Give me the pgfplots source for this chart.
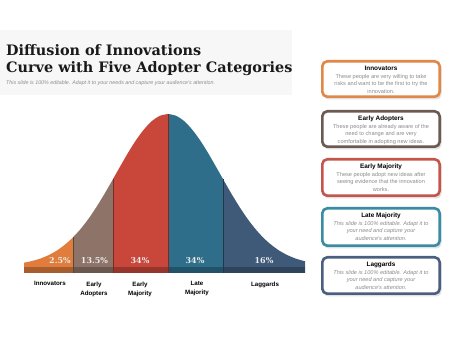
\documentclass[border=0pt]{standalone}
\usepackage{pgfplots}
\pgfplotsset{compat=1.18}
\usepackage{fontspec}
\setmainfont{DejaVu Serif}
\setsansfont{Liberation Sans}
\newfontfamily\arial{Liberation Sans}
\definecolor{cInn}{HTML}{E07C3C}
\definecolor{cEA}{HTML}{8E7468}
\definecolor{cEM}{HTML}{C8463A}
\definecolor{cLM}{HTML}{2E6E8A}
\definecolor{cLag}{HTML}{3F5A78}
\definecolor{bInn}{HTML}{E08848}
\definecolor{bEA}{HTML}{6B5A52}
\definecolor{bEM}{HTML}{C4554A}
\definecolor{bLM}{HTML}{3A8CA2}
\definecolor{bLag}{HTML}{4A5E80}
\newcommand{\infobox}[3]{%
  \fill[black!12, rounded corners=5pt] (axis cs:323.5,#1-2.5) rectangle (axis cs:441.5,#2-1.5);
  \draw[draw=#3, line width=2.6pt, fill=white, rounded corners=5pt] (axis cs:322.3,#1-1.3) rectangle (axis cs:439.7,#2+1.3);
}
\begin{document}
\begin{tikzpicture}
\begin{axis}[scale only axis, width=474pt, height=355pt,
  xmin=0, xmax=474, ymin=-82, ymax=273, hide axis, clip=false]
% background
\fill[white] (axis cs:0,-82) rectangle (axis cs:474,273);
\fill[black!3] (axis cs:0,243) rectangle (axis cs:292,178);
% title
\node[anchor=base west, inner sep=0pt, font=\bfseries\fontsize{14.4}{17}\selectfont, text=black!90] at (axis cs:6,217) {Diffusion of Innovations};
\node[anchor=base west, inner sep=0pt, font=\bfseries\fontsize{14.4}{17}\selectfont, text=black!90] at (axis cs:6,200) {Curve with Five Adopter Categories};
\node[anchor=base west, inner sep=0pt, font=\arial\itshape\fontsize{5.3}{6}\selectfont, text=black!45] at (axis cs:6,188) {This slide is 100\% editable. Adapt it to your needs and capture your audience's attention.};
% curve segments
\addplot[fill=cInn, draw=none, smooth] coordinates {(24,10.3)(32,12.0)(40,14.3)(48,17.6)(56,21.9)(64,27.6)(72,34.6)(73,35.7)} \closedcycle;
\addplot[fill=cEA, draw=none, smooth] coordinates {(73,35.7)(80,43.3)(88,53.5)(96,65.3)(104,78.3)(112,92.1)(113,93.9)} \closedcycle;
\addplot[fill=cEM, draw=none, smooth] coordinates {(113,93.9)(120,106.3)(128,120.1)(136,132.8)(144,143.6)(152,152.0)(160,157.2)(168,159)} \closedcycle;
\addplot[fill=cLM, draw=none, smooth] coordinates {(168,159)(176,157.2)(184,152.0)(192,143.6)(200,132.8)(208,120.1)(216,106.3)(223,93.9)} \closedcycle;
\addplot[fill=cLag, draw=none, smooth] coordinates {(223,93.9)(224,92.1)(232,78.3)(240,65.3)(248,53.5)(256,43.3)(264,34.6)(272,27.6)(280,21.9)(288,17.6)(296,14.3)(305,11.7)} \closedcycle;
% bottom strip
\addplot[fill=cInn!75!black, draw=none] coordinates {(24,6)(73,6)} \closedcycle;
\addplot[fill=cEA!75!black, draw=none] coordinates {(73,6)(113,6)} \closedcycle;
\addplot[fill=cEM!75!black, draw=none] coordinates {(113,6)(168,6)} \closedcycle;
\addplot[fill=cLM!75!black, draw=none] coordinates {(168,6)(223,6)} \closedcycle;
\addplot[fill=cLag!75!black, draw=none] coordinates {(223,6)(305,6)} \closedcycle;
% boundary lines
\addplot[draw=cEA!60!black, line width=0.8pt] coordinates {(73,0)(73,35.7)};
\addplot[draw=cEM!60!black, line width=0.8pt] coordinates {(113,0)(113,93.9)};
\addplot[draw=cEM!60!black, line width=0.8pt] coordinates {(168,0)(168,159)};
\addplot[draw=cLag!60!black, line width=0.8pt] coordinates {(223,0)(223,93.9)};
% percentages
\node[font=\bfseries\fontsize{8}{9}\selectfont, text=white!92!black] at (axis cs:60,12.5) {2.5\%};
\node[font=\bfseries\fontsize{8}{9}\selectfont, text=white!92!black] at (axis cs:94.5,12.5) {13.5\%};
\node[font=\bfseries\fontsize{8}{9}\selectfont, text=white!92!black] at (axis cs:140,12.5) {34\%};
\node[font=\bfseries\fontsize{8}{9}\selectfont, text=white!92!black] at (axis cs:195,12.5) {34\%};
\node[font=\bfseries\fontsize{8}{9}\selectfont, text=white!92!black] at (axis cs:264,12.5) {16\%};
% category labels
\node[font=\arial\bfseries\fontsize{6.2}{9}\selectfont, align=center, anchor=north] at (axis cs:50,-5) {Innovators};
\node[font=\arial\bfseries\fontsize{6.2}{9}\selectfont, align=center, anchor=north] at (axis cs:94,-5) {Early\\Adopters};
\node[font=\arial\bfseries\fontsize{6.2}{9}\selectfont, align=center, anchor=north] at (axis cs:140,-5) {Early\\Majority};
\node[font=\arial\bfseries\fontsize{6.2}{9}\selectfont, align=center, anchor=north] at (axis cs:197,-5) {Late\\Majority};
\node[font=\arial\bfseries\fontsize{6.2}{9}\selectfont, align=center, anchor=north] at (axis cs:265,-5) {Laggards};
% boxes
\infobox{213}{175}{bInn}
\infobox{163}{125}{bEA}
\infobox{115}{76}{bEM}
\infobox{66}{26}{bLM}
\infobox{17}{-22}{bLag}
\node[font=\arial\bfseries\fontsize{6.4}{7}\selectfont, anchor=base, inner sep=0pt] at (axis cs:381,202) {Innovators};
\node[font=\arial\fontsize{5.6}{7.5}\selectfont, text=black!45, anchor=north, align=center, inner sep=0pt] at (axis cs:381,199) {These people are very willing to take\\risks and want to be the first to try the\\innovation.};
\node[font=\arial\bfseries\fontsize{6.4}{7}\selectfont, anchor=base, inner sep=0pt] at (axis cs:381,152) {Early Adopters};
\node[font=\arial\fontsize{5.6}{7.5}\selectfont, text=black!45, anchor=north, align=center, inner sep=0pt] at (axis cs:381,149) {These people are already aware of the\\need to change and are very\\comfortable in adopting new ideas.};
\node[font=\arial\bfseries\fontsize{6.4}{7}\selectfont, anchor=base, inner sep=0pt] at (axis cs:381,104) {Early Majority};
\node[font=\arial\fontsize{5.6}{7.5}\selectfont, text=black!45, anchor=north, align=center, inner sep=0pt] at (axis cs:381,101) {These people adopt new ideas after\\seeing evidence that the innovation\\works.};
\node[font=\arial\bfseries\fontsize{6.4}{7}\selectfont, anchor=base, inner sep=0pt] at (axis cs:381,55) {Late Majority};
\node[font=\arial\itshape\fontsize{5.6}{7.5}\selectfont, text=black!45, anchor=north, align=center, inner sep=0pt] at (axis cs:381,52) {This slide is 100\% editable. Adapt it to\\your need and capture your\\audience's attention.};
\node[font=\arial\bfseries\fontsize{6.4}{7}\selectfont, anchor=base, inner sep=0pt] at (axis cs:381,6) {Laggards};
\node[font=\arial\itshape\fontsize{5.6}{7.5}\selectfont, text=black!45, anchor=north, align=center, inner sep=0pt] at (axis cs:381,3) {This slide is 100\% editable. Adapt it to\\your need and capture your\\audience's attention.};
\end{axis}
\end{tikzpicture}
\end{document}
